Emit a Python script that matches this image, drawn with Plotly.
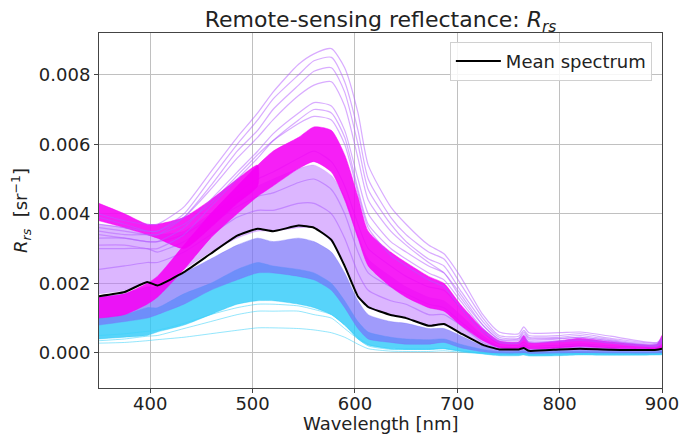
import plotly.graph_objects as go

# Wavelength sampling points [nm]
WL = [350, 375, 397, 407, 433, 459, 485, 505, 520, 545, 560, 577, 590, 603, 613,
      635, 650, 672, 687, 703, 725, 741, 760, 765, 770, 800, 820, 850, 895, 900]

# Mean spectrum
MEAN = [0.00163, 0.00175, 0.00204, 0.00194, 0.00232, 0.00285, 0.00337, 0.00357, 0.00350, 0.00366,
        0.00360, 0.00325, 0.00250, 0.00162, 0.00132, 0.00109, 0.00100, 0.00078, 0.00083, 0.00057,
        0.00023, 0.00010, 0.00010, 0.00014, 0.00006, 0.00010, 0.00012, 0.00009, 0.00009, 0.00012]

# Dense bands of spectra: lower / upper envelopes
CYAN_LO = [0.00040, 0.00045, 0.00050, 0.00060, 0.00080, 0.00110, 0.00140, 0.00150, 0.00150, 0.00140,
           0.00130, 0.00110, 0.00080, 0.00040, 0.00022, 0.00012, 0.00010, 0.00010, 0.00012, 0.00005,
           -0.00003, -0.00008, -0.00008, -0.00006, -0.00009, -0.00008, -0.00006, -0.00007, -0.00006, -0.00005]
CYAN_HI = [0.00100, 0.00110, 0.00130, 0.00130, 0.00170, 0.00200, 0.00240, 0.00260, 0.00250, 0.00240,
           0.00230, 0.00200, 0.00150, 0.00090, 0.00060, 0.00045, 0.00040, 0.00038, 0.00040, 0.00025,
           0.00010, 0.00004, 0.00004, 0.00006, 0.00002, 0.00004, 0.00005, 0.00003, 0.00003, 0.00005]
BLUE_LO = [0.00080, 0.00090, 0.00100, 0.00110, 0.00140, 0.00180, 0.00210, 0.00230, 0.00230, 0.00220,
           0.00210, 0.00180, 0.00130, 0.00070, 0.00040, 0.00030, 0.00025, 0.00025, 0.00030, 0.00015,
           0.00003, -0.00002, -0.00002, 0.00000, -0.00003, -0.00002, 0.00000, -0.00002, -0.00002, 0.00000]
BLUE_HI = [0.00160, 0.00170, 0.00190, 0.00190, 0.00230, 0.00270, 0.00310, 0.00330, 0.00320, 0.00330,
           0.00320, 0.00290, 0.00230, 0.00150, 0.00110, 0.00090, 0.00085, 0.00070, 0.00070, 0.00050,
           0.00020, 0.00010, 0.00009, 0.00012, 0.00007, 0.00009, 0.00011, 0.00008, 0.00008, 0.00011]
HAZE_LO = [0.00170, 0.00180, 0.00200, 0.00200, 0.00240, 0.00290, 0.00330, 0.00350, 0.00350, 0.00360,
           0.00360, 0.00320, 0.00260, 0.00170, 0.00130, 0.00110, 0.00100, 0.00080, 0.00080, 0.00060,
           0.00025, 0.00010, 0.00010, 0.00014, 0.00008, 0.00010, 0.00012, 0.00009, 0.00009, 0.00012]
HAZE_HI = [0.00370, 0.00360, 0.00340, 0.00340, 0.00350, 0.00400, 0.00450, 0.00480, 0.00500, 0.00530,
           0.00540, 0.00510, 0.00450, 0.00340, 0.00270, 0.00220, 0.00190, 0.00160, 0.00150, 0.00110,
           0.00050, 0.00020, 0.00018, 0.00025, 0.00016, 0.00018, 0.00022, 0.00016, 0.00014, 0.00022]
MAG_LO = [0.00100, 0.00110, 0.00140, 0.00160, 0.00240, 0.00330, 0.00400, 0.00450, 0.00480, 0.00530,
          0.00550, 0.00520, 0.00440, 0.00330, 0.00250, 0.00190, 0.00160, 0.00130, 0.00120, 0.00080,
          0.00035, 0.00015, 0.00013, 0.00017, 0.00012, 0.00014, 0.00018, 0.00013, 0.00011, 0.00015]
MAG_HI = [0.00160, 0.00170, 0.00200, 0.00220, 0.00310, 0.00400, 0.00480, 0.00540, 0.00580, 0.00620,
          0.00650, 0.00640, 0.00570, 0.00450, 0.00350, 0.00290, 0.00260, 0.00220, 0.00200, 0.00140,
          0.00070, 0.00035, 0.00032, 0.00050, 0.00030, 0.00035, 0.00042, 0.00032, 0.00025, 0.00050]

# Upper magenta stream in the blue part of the spectrum
WL_UP = [350, 375, 397, 407, 433, 459, 485, 505]
MAGUP_LO = [0.00380, 0.00360, 0.00340, 0.00330, 0.00300, 0.00360, 0.00430, 0.00480]
MAGUP_HI = [0.00430, 0.00400, 0.00370, 0.00370, 0.00390, 0.00440, 0.00500, 0.00540]

# Individual spectra inside the violet haze
MID_1 = [0.0024, 0.0025, 0.0026, 0.0026, 0.0029, 0.0034, 0.0039, 0.0041, 0.0041, 0.0043,
         0.0043, 0.0040, 0.0033, 0.0023, 0.0018, 0.0015, 0.0014, 0.0011, 0.0011, 0.0008,
         0.0003, 0.00014, 0.00013, 0.00018, 0.00011, 0.00013, 0.00016, 0.00012, 0.00011, 0.00016]
MID_2 = [0.0030, 0.0030, 0.0030, 0.0029, 0.0032, 0.0037, 0.0042, 0.0045, 0.0046, 0.0049,
         0.0050, 0.0047, 0.0040, 0.0029, 0.0023, 0.0019, 0.0017, 0.0014, 0.0013, 0.0009,
         0.0004, 0.00018, 0.00016, 0.00022, 0.00014, 0.00016, 0.0002, 0.00015, 0.00013, 0.0002]
MID_3 = [0.0033, 0.0033, 0.0032, 0.0032, 0.0034, 0.0039, 0.0046, 0.0050, 0.0052, 0.0056,
         0.0058, 0.0055, 0.0048, 0.0037, 0.0030, 0.0025, 0.0022, 0.0019, 0.0018, 0.0013,
         0.0006, 0.00025, 0.00022, 0.0003, 0.0002, 0.00022, 0.00026, 0.0002, 0.00017, 0.00026]
MIDS = [MID_1, MID_2, MID_3]

# Individual high-reflectance spectra
OUT_1 = [0.0040, 0.0038, 0.0037, 0.0037, 0.0042, 0.0052, 0.0062, 0.0069, 0.0075, 0.0083,
         0.0086, 0.00875, 0.0082, 0.0069, 0.0054, 0.0042, 0.0037, 0.0031, 0.00285, 0.0022,
         0.0011, 0.0006, 0.00055, 0.00075, 0.00058, 0.00058, 0.0006, 0.00048, 0.0003, 0.00045]
OUT_2 = [0.0037, 0.0036, 0.0035, 0.0035, 0.0040, 0.0050, 0.0060, 0.0067, 0.0073, 0.0080,
         0.0084, 0.0085, 0.0078, 0.0064, 0.0050, 0.0039, 0.0034, 0.0029, 0.0027, 0.0020,
         0.0010, 0.0005, 0.00048, 0.00065, 0.0005, 0.0005, 0.00055, 0.00042, 0.00028, 0.0004]
OUT_3 = [0.0035, 0.0034, 0.0034, 0.0034, 0.0039, 0.0048, 0.0058, 0.0064, 0.0070, 0.0077,
         0.0081, 0.0082, 0.0075, 0.0060, 0.0047, 0.0037, 0.0032, 0.0027, 0.0025, 0.0018,
         0.0009, 0.00045, 0.00042, 0.0006, 0.00045, 0.00045, 0.0005, 0.00038, 0.00025, 0.00038]
OUT_4 = [0.0039, 0.0037, 0.0035, 0.0035, 0.0039, 0.0047, 0.0056, 0.0062, 0.0067, 0.0074,
         0.0077, 0.0078, 0.0071, 0.0056, 0.0044, 0.0035, 0.0031, 0.0026, 0.0023, 0.0017,
         0.0008, 0.0004, 0.0004, 0.00055, 0.00042, 0.00042, 0.00045, 0.00035, 0.00022, 0.00035]
OUT_5 = [0.0034, 0.0033, 0.0032, 0.0032, 0.0036, 0.0044, 0.0052, 0.0058, 0.0063, 0.0069,
         0.0072, 0.0071, 0.0064, 0.0050, 0.0040, 0.0032, 0.0029, 0.0025, 0.0023, 0.0016,
         0.0008, 0.00038, 0.00036, 0.0005, 0.00038, 0.0004, 0.00045, 0.00034, 0.00022, 0.00034]
OUT_6 = [0.0031, 0.0031, 0.0030, 0.0030, 0.0034, 0.0042, 0.0050, 0.0056, 0.0061, 0.0067,
         0.0070, 0.0069, 0.0062, 0.0047, 0.0037, 0.0030, 0.0027, 0.0023, 0.0021, 0.0015,
         0.0007, 0.00033, 0.0003, 0.00045, 0.00033, 0.00035, 0.0004, 0.0003, 0.0002, 0.0003]
OUT_7 = [0.0036, 0.0035, 0.0034, 0.0034, 0.0037, 0.0043, 0.0051, 0.0057, 0.0061, 0.0066,
         0.0068, 0.0067, 0.0060, 0.0046, 0.0036, 0.0028, 0.0025, 0.0021, 0.0019, 0.0013,
         0.0006, 0.0003, 0.00028, 0.0004, 0.0003, 0.00032, 0.00036, 0.00028, 0.00018, 0.00028]
OUTLIERS = [OUT_1, OUT_2, OUT_3, OUT_4, OUT_5, OUT_6, OUT_7]

# Individual low-reflectance (cyan) spectra
LOW_1 = [0.00028, 0.00030, 0.00035, 0.00038, 0.00045, 0.00055, 0.00065, 0.00072, 0.00072, 0.00070,
         0.00066, 0.00058, 0.00045, 0.00025, 0.00012, 0.00005, 0.00004, 0.00004, 0.00006, 0.00002,
         -0.00002, -0.00004, -0.00004, -0.00003, -0.00005, -0.00004, -0.00003, -0.00004, -0.00004, -0.00003]
LOW_2 = [0.00035, 0.00040, 0.00048, 0.00050, 0.00070, 0.00090, 0.00110, 0.00120, 0.00120, 0.00120,
         0.00110, 0.00100, 0.00070, 0.00040, 0.00020, 0.00010, 0.00010, 0.00010, 0.00012, 0.00005,
         0.00000, -0.00003, -0.00003, -0.00002, -0.00004, -0.00003, -0.00002, -0.00003, -0.00003, -0.00002]
LOW_3 = [0.00050, 0.00055, 0.00062, 0.00065, 0.00085, 0.00110, 0.00130, 0.00140, 0.00140, 0.00135,
         0.00125, 0.00110, 0.00080, 0.00045, 0.00025, 0.00012, 0.00011, 0.00011, 0.00013, 0.00006,
         0.00000, -0.00003, -0.00003, -0.00002, -0.00004, -0.00003, -0.00002, -0.00003, -0.00003, -0.00002]
LOWS = [LOW_1, LOW_2, LOW_3]

FONT = "DejaVu Sans"
SMOOTH = 0.6
fig = go.Figure()


def band(x, lo, hi, color):
    fig.add_trace(go.Scatter(
        x=list(x) + list(x)[::-1], y=list(hi) + list(lo)[::-1],
        fill="toself", fillcolor=color, mode="lines",
        line=dict(width=0.5, color=color, shape="spline", smoothing=SMOOTH),
        showlegend=False, hoverinfo="skip"))


def spectrum(y, color, width):
    fig.add_trace(go.Scatter(x=WL, y=y, mode="lines",
                             line=dict(width=width, color=color, shape="spline", smoothing=SMOOTH),
                             showlegend=False, hoverinfo="skip"))


band(WL, CYAN_LO, CYAN_HI, "rgba(40,200,248,0.78)")
band(WL, BLUE_LO, BLUE_HI, "rgba(120,112,250,0.7)")
band(WL, HAZE_LO, HAZE_HI, "rgba(185,110,255,0.5)")
for s in MIDS:
    spectrum(s, "rgba(170,90,255,0.5)", 1.2)
band(WL, MAG_LO, MAG_HI, "rgba(245,0,245,0.88)")
band(WL_UP, MAGUP_LO, MAGUP_HI, "rgba(245,0,245,0.88)")

for s in LOWS:
    spectrum(s, "rgba(60,210,250,0.55)", 1)
for s in OUTLIERS:
    spectrum(s, "rgba(180,90,255,0.5)", 1.2)

fig.add_trace(go.Scatter(x=WL, y=MEAN, mode="lines", name="Mean spectrum",
                         line=dict(width=2, color="black", shape="spline", smoothing=0.4)))

axis_common = dict(showgrid=True, gridcolor="#c0c0c0", gridwidth=1,
                   showline=True, linecolor="#444", linewidth=1, mirror=True,
                   ticks="outside", ticklen=4, tickcolor="#444", automargin=False,
                   tickfont=dict(family=FONT, size=18, color="#222"), zeroline=False)

fig.update_layout(
    width=682, height=438,
    margin=dict(l=99, r=20, t=33, b=50),
    paper_bgcolor="white", plot_bgcolor="white",
    title=dict(text="Remote-sensing reflectance: <i>R</i><sub><i>rs</i></sub>",
               x=0.558, xanchor="center", y=0.955, yanchor="middle",
               font=dict(family=FONT, size=22, color="#222")),
    xaxis=dict(range=[350, 900], dtick=100, tick0=400, ticklabelstandoff=-5,
               **axis_common),
    yaxis=dict(range=[-0.00101, 0.0092], dtick=0.002, tick0=0, tickformat=".3f",
               title=dict(text="<i>R</i><sub><i>rs</i></sub>  [sr<sup>−1</sup>]", standoff=6,
                          font=dict(family=FONT, size=18, color="#222")),
               **axis_common),
    legend=dict(x=0.982, y=0.975, xanchor="right", yanchor="top", itemwidth=45,
                bgcolor="rgba(255,255,255,0.85)", bordercolor="#d0d0d0", borderwidth=1,
                font=dict(family=FONT, size=18, color="#222")),
    annotations=[dict(text="Wavelength [nm]", xref="paper", yref="paper", x=0.5, y=-0.064,
                      xanchor="center", yanchor="top", showarrow=False,
                      font=dict(family=FONT, size=18, color="#222"))],
    hovermode=False,
)

fig.write_html("out.html")
